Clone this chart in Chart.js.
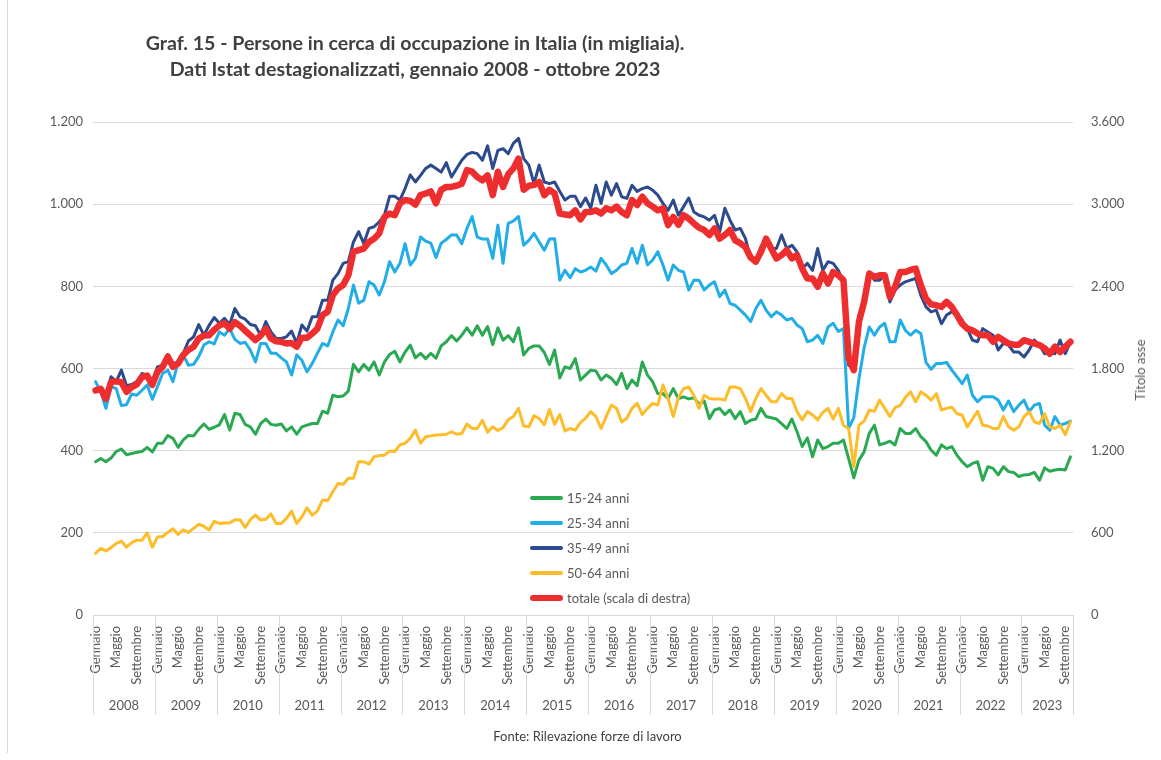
<!DOCTYPE html>
<html lang="it">
<head>
<meta charset="utf-8">
<title>Persone in cerca di occupazione</title>
<script src="https://cdn.jsdelivr.net/npm/chart.js@4.4.1/dist/chart.umd.min.js"></script>
<style>
  body { margin: 0; background: #fff; font-family: Lato, "Open Sans", sans-serif; }
  #wrap { position: relative; width: 1161px; height: 760px; overflow: hidden; background: #fff; }
  #frame { position: absolute; left: 7px; top: 0; height: 753px; border-left: 1px solid #d9d9d9; }
  #title { position: absolute; left: 90px; width: 650px; top: 30px; text-align: center;
           font-weight: bold; font-size: 19.6px; line-height: 26px; color: #404040; }
  #axisTitle { position: absolute; left: 1140px; top: 370px; color: #595959; font-size: 13px;
               transform: translate(-50%, -50%) rotate(-90deg); white-space: nowrap; }
  #source { position: absolute; left: 0; width: 1161px; top: 728px; text-align: center;
            font-size: 13px; color: #404040; padding-left: 14px; box-sizing: border-box; }
  #legend { position: absolute; left: 530px; top: 485px; font-size: 13px; color: #595959; }
  #legend div { height: 25px; display: flex; align-items: center; white-space: nowrap; }
  #legend span.sw { display: inline-block; width: 33px; margin-right: 4px; border-radius: 3px; }
  canvas { position: absolute; left: 0; top: 0; }
</style>
</head>
<body>
<div id="wrap">
  <canvas id="chart" width="1161" height="760"></canvas>
  <div id="frame"></div>
  <div id="title">Graf. 15 - Persone in cerca di occupazione in Italia (in migliaia).<br>Dati Istat destagionalizzati, gennaio 2008 - ottobre 2023</div>
  <div id="axisTitle">Titolo asse</div>
  <div id="legend"></div>
  <div id="source">Fonte: Rilevazione forze di lavoro</div>
</div>
<script>
// categories
const years = ['2008','2009','2010','2011','2012','2013','2014','2015',
               '2016','2017','2018','2019','2020','2021','2022','2023'];
const monthNames = ['Gennaio','Febbraio','Marzo','Aprile','Maggio','Giugno',
                    'Luglio','Agosto','Settembre','Ottobre','Novembre','Dicembre'];
const shownMonths = ['Gennaio','Maggio','Settembre'];
const nMonths = 190; // gennaio 2008 - ottobre 2023

// tick labels
const leftTicks = ['0','200','400','600','800','1.000','1.200'];
const rightTicks = ['0','600','1.200','1.800','2.400','3.000','3.600'];

// series (migliaia), one row per year
const age1524 = [
  373,381,373,382,398,404,390,393,396,398,408,397,
  418,418,437,430,408,426,437,436,452,465,452,457,
  463,488,450,491,488,464,458,440,466,477,464,462,
  465,448,458,440,458,462,466,466,496,491,535,531,
  533,545,610,592,610,596,616,584,616,634,642,616,
  640,657,626,637,624,637,625,655,665,680,667,681,
  699,681,704,681,702,658,699,669,680,665,699,633,
  649,655,655,639,610,645,577,604,600,624,572,584,
  596,594,572,584,576,561,588,551,572,558,616,584,
  568,539,539,527,551,527,531,526,529,513,521,478,
  499,503,488,499,478,495,466,474,477,503,483,480,
  477,466,454,477,446,410,431,385,426,405,410,418,
  418,426,381,334,377,397,442,462,414,418,423,414,
  454,442,442,454,434,422,401,389,414,405,410,389,
  373,361,369,373,328,361,357,341,361,349,347,337,
  341,342,347,328,358,350,353,355,353,385
];
const age2534 = [
  568,543,503,556,551,510,512,538,535,547,560,525,
  556,588,596,568,615,633,608,610,629,657,665,660,
  689,681,697,671,661,664,645,616,661,661,637,637,
  626,616,584,633,620,592,612,637,661,655,689,718,
  704,746,803,759,766,811,803,779,811,860,835,856,
  904,852,868,920,910,905,870,905,914,925,925,904,
  941,970,920,915,915,868,949,856,953,959,970,900,
  912,929,908,888,915,916,815,839,821,843,835,839,
  847,837,868,852,831,839,852,856,892,856,900,852,
  864,884,852,815,852,839,835,791,815,815,791,803,
  811,775,791,758,754,742,730,714,746,766,742,726,
  738,730,718,722,706,697,665,669,681,661,701,710,
  690,697,455,480,575,650,701,681,701,710,665,665,
  718,693,681,693,685,615,598,612,612,615,596,580,
  563,584,535,519,531,531,531,523,499,521,495,511,
  523,495,511,515,462,450,483,462,466,472
];
const age3549 = [
  547,550,527,580,568,596,558,561,568,588,584,568,
  604,608,634,612,616,637,667,677,707,681,705,724,
  710,722,707,746,726,720,707,704,681,714,689,673,
  673,677,691,661,706,691,726,726,766,766,815,831,
  856,860,908,933,904,941,945,957,973,1019,1019,1010,
  1038,1071,1054,1070,1087,1095,1087,1078,1101,1066,1087,1107,
  1121,1126,1123,1107,1142,1087,1131,1135,1123,1148,1160,1111,
  1095,1050,1095,1054,1050,1054,1031,1010,1019,1019,994,1015,
  990,1046,1002,1054,1022,1050,1018,1014,1046,1031,1038,1042,
  1034,1022,1002,985,1010,973,994,1015,981,973,969,961,
  973,933,990,961,937,941,916,868,864,896,916,892,
  892,925,892,900,884,843,856,839,892,839,860,856,
  839,811,608,600,730,762,835,815,815,827,762,791,
  803,811,815,819,778,750,738,742,709,730,738,730,
  718,697,669,665,697,689,681,645,661,657,640,640,
  628,645,669,657,636,640,636,669,636,665
];
const age5064 = [
  150,162,156,164,174,180,165,176,182,182,200,165,
  190,191,201,210,196,207,201,211,221,216,207,228,
  223,224,224,232,232,213,232,243,231,233,246,223,
  223,235,253,223,239,261,243,253,280,278,300,320,
  318,333,333,373,373,367,385,388,389,399,398,414,
  418,430,450,418,434,436,438,439,440,446,440,442,
  465,454,454,474,445,458,449,456,475,483,503,460,
  458,485,478,463,500,464,488,448,454,450,468,479,
  495,483,454,483,511,503,470,479,503,515,488,503,
  515,511,560,527,483,529,551,555,535,503,535,527,
  526,526,523,555,555,551,527,495,527,551,535,519,
  519,539,527,527,495,475,495,487,475,493,503,477,
  503,462,454,361,462,472,499,496,523,503,483,505,
  510,530,543,519,543,535,523,539,499,503,506,490,
  487,458,477,496,462,460,454,454,483,458,450,458,
  483,495,470,466,490,458,454,462,439,470
];
const totale = [
  1640,1652,1578,1702,1706,1700,1630,1664,1684,1738,1748,1680,
  1776,1812,1887,1812,1836,1899,1935,1959,2019,2040,2043,2082,
  2115,2130,2091,2139,2112,2076,2043,2007,2040,2091,2019,1998,
  1995,1983,1986,1959,2025,2025,2055,2091,2190,2214,2337,2385,
  2409,2481,2652,2664,2676,2724,2748,2787,2907,2931,2919,3006,
  3030,3024,2997,3066,3078,3093,3006,3105,3126,3126,3135,3150,
  3249,3237,3198,3174,3210,3066,3237,3126,3219,3261,3333,3105,
  3135,3141,3162,3066,3105,3078,2931,2925,2919,2955,2889,2943,
  2943,2955,2931,2970,2955,2982,2943,2919,3030,2994,3054,3006,
  2982,2955,2970,2847,2907,2850,2919,2895,2859,2829,2811,2775,
  2823,2748,2775,2811,2736,2715,2685,2610,2580,2652,2748,2676,
  2604,2628,2664,2604,2628,2529,2457,2457,2397,2493,2421,2505,
  2481,2445,1875,1788,2142,2286,2493,2469,2481,2481,2322,2397,
  2505,2505,2520,2529,2409,2310,2268,2262,2250,2286,2250,2190,
  2127,2091,2079,2055,2043,2043,1995,2031,2007,1983,1974,1974,
  2007,1995,1983,1971,1947,1908,1959,1920,1959,1995
];

const seriesNames = ['15-24 anni','25-34 anni','35-49 anni','50-64 anni','totale (scala di destra)'];
const seriesColors = ['#2aa952','#22ade6','#2c4a8c','#fdbd2b','#ee2e2e'];

// month labels, e.g. "Gennaio 2008"
const labels = [];
for (let i = 0; i < nMonths; i++) {
  labels.push(monthNames[i % 12] + ' ' + years[Math.floor(i / 12)]);
}

// legend (inside the plot, as in the original)
const legendBox = document.getElementById('legend');
seriesNames.forEach((name, k) => {
  const row = document.createElement('div');
  const sw = document.createElement('span');
  sw.className = 'sw';
  sw.style.background = seriesColors[k];
  sw.style.height = k === 4 ? '6px' : '4px';
  row.append(sw, document.createTextNode(name));
  legendBox.appendChild(row);
});

// second level of the category axis: year boxes
const yearRow = {
  id: 'yearRow',
  afterDraw(chart) {
    const xs = chart.scales.x;
    const { ctx, chartArea } = chart;
    const edge = i => xs.getPixelForValue(i - 0.5);
    ctx.save();
    ctx.strokeStyle = '#d9d9d9';
    ctx.lineWidth = 1;
    ctx.beginPath();
    for (let k = 0; k <= years.length; k++) {
      const px = Math.round(edge(Math.min(k * 12, nMonths))) + 0.5;
      ctx.moveTo(px, chartArea.bottom);
      ctx.lineTo(px, chartArea.bottom + 100);
    }
    ctx.stroke();
    ctx.fillStyle = '#595959';
    ctx.font = '13px Lato';
    ctx.textAlign = 'center';
    ctx.textBaseline = 'middle';
    years.forEach((y, k) => {
      const a = edge(k * 12), b = edge(Math.min(k * 12 + 12, nMonths));
      ctx.fillText(y, (a + b) / 2, chartArea.bottom + 91);
    });
    ctx.restore();
  }
};

function line(data, k, axis, width, order) {
  return {
    label: seriesNames[k],
    data: data,
    yAxisID: axis,
    borderColor: seriesColors[k],
    backgroundColor: seriesColors[k],
    borderWidth: width,
    pointRadius: 0,
    tension: 0,
    borderJoinStyle: 'round',
    borderCapStyle: 'round',
    order: order
  };
}

new Chart(document.getElementById('chart'), {
  type: 'line',
  data: {
    labels: labels,
    datasets: [
      line(age1524, 0, 'y', 3, 4),
      line(age2534, 1, 'y', 3, 3),
      line(age3549, 2, 'y', 3, 2),
      line(age5064, 3, 'y', 3, 1),
      line(totale, 4, 'y2', 6.5, 0)
    ]
  },
  options: {
    responsive: false,
    devicePixelRatio: 1,
    animation: false,
    layout: { padding: { top: 122, left: 0, right: 0, bottom: 0 } },
    plugins: { legend: { display: false }, tooltip: { enabled: false } },
    scales: {
      x: {
        type: 'category',
        offset: true,
        grid: { display: false, drawTicks: false },
        border: { display: true, color: '#d9d9d9' },
        ticks: {
          autoSkip: false, maxRotation: 90, minRotation: 90, padding: 11,
          color: '#595959', font: { family: 'Lato', size: 13 },
          callback: (v, i) => (i % 4 === 0 ? shownMonths[(i % 12) / 4] : '')
        },
        afterFit: s => { s.height = 145; }
      },
      y: {
        position: 'left', min: 0, max: 1200,
        grid: { color: '#d9d9d9', drawTicks: false },
        border: { display: false },
        ticks: {
          stepSize: 200, padding: 10, color: '#595959', font: { family: 'Lato', size: 13 },
          callback: (v, i) => leftTicks[i]
        },
        afterFit: s => { s.width = 93; }
      },
      y2: {
        position: 'right', min: 0, max: 3600,
        grid: { drawOnChartArea: false, drawTicks: false },
        border: { display: false },
        ticks: {
          stepSize: 600, padding: 18, color: '#595959', font: { family: 'Lato', size: 13 },
          callback: (v, i) => rightTicks[i]
        },
        afterFit: s => { s.width = 88; }
      }
    }
  },
  plugins: [yearRow]
});
</script>
</body>
</html>
